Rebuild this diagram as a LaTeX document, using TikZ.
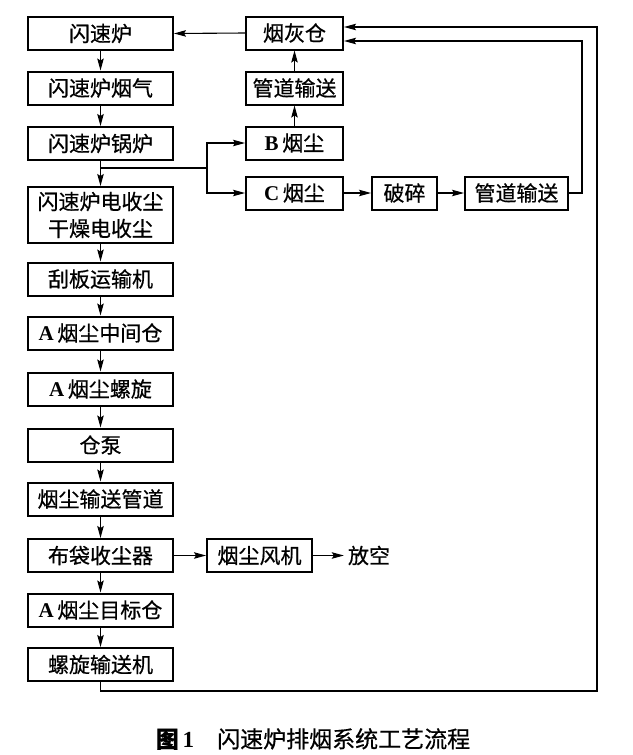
\documentclass[tikz,border=0pt]{standalone}
\usepackage{fontspec}
\setmainfont{Noto Sans CJK SC}[FakeBold=0.6]
\newfontfamily\latf{Liberation Serif}
\usepackage{tikz}
\usetikzlibrary{positioning,calc}
\usetikzlibrary{shapes.geometric, arrows.meta}
\newcommand{\ltr}[1]{{\latf\bfseries #1}\,}
\tikzset{
  bx/.style={rectangle, minimum width=145pt, minimum height=33pt, inner sep=0pt, text centered, draw=black, line width=2pt, font=\fontsize{21}{27}\selectfont},
  bxr/.style={bx, minimum width=97pt},
  lbl/.style={inner sep=0pt, font=\fontsize{21}{27}\selectfont},
  ar/.style={line width=1.1pt, -{Stealth[length=12pt,width=6.5pt,inset=2pt]}},
  ln/.style={line width=1.1pt}
}
\begin{document}
\begin{tikzpicture}[x=1pt,y=-1pt]
	\useasboundingbox (0,0) rectangle (632,755);
	% left column
	\node[bx] (fsl) at (100.5,33.5) {闪速炉};
	\node[bx] (yq) at (100.5,88) {闪速炉烟气};
	\node[bx] (gl) at (100.5,143.5) {闪速炉锅炉};
	\node[bx, minimum height=56pt, align=center] (dsc) at (100.5,215) {闪速炉电收尘\\干燥电收尘};
	\node[bx] (gb) at (100.5,279) {刮板运输机};
	\node[bx] (zjc) at (100.5,333) {\ltr{A}烟尘中间仓};
	\node[bx] (lx) at (100.5,389) {\ltr{A}烟尘螺旋};
	\node[bx] (cb) at (100.5,445) {仓泵};
	\node[bx] (gd) at (100.5,499) {烟尘输送管道};
	\node[bx] (bd) at (100.5,555.5) {布袋收尘器};
	\node[bx] (mbc) at (100.5,610) {\ltr{A}烟尘目标仓};
	\node[bx] (lxj) at (100.5,664.5) {螺旋输送机};
	% right side
	\node[bxr] (yhc) at (294.5,33) {烟灰仓};
	\node[bxr] (gda) at (294.5,88) {管道输送};
	\node[bxr] (byc) at (294.5,143) {\ltr{B}烟尘};
	\node[bxr] (cyc) at (294.5,193) {\ltr{C}烟尘};
	\node[bx, minimum width=65pt] (ps) at (404.5,193) {破碎};
	\node[bx, minimum width=103pt] (gdb) at (516.5,193) {管道输送};
	\node[bx, minimum width=105pt] (fj) at (259.5,555.5) {烟尘风机};
	\node[lbl] (fk) at (369,555.5) {放空};
	\node[lbl, font=\fontsize{23}{27}\selectfont] (cap) at (313,739) {{\bfseries 图\,\latf 1}\hspace{1em}闪速炉排烟系统工艺流程};
	%
	\coordinate (jn) at (207,168);
	\coordinate (rg) at (582,193);
	\coordinate (rb) at (597,691);

	\draw[ar] (yhc.west) -- (fsl.east);
	\draw[ar] (fsl) -- (yq);
	\draw[ar] (yq) -- (gl);
	\draw[ar] (gl) -- (dsc);
	\draw[ar] (dsc) -- (gb);
	\draw[ar] (gb) -- (zjc);
	\draw[ar] (zjc) -- (lx);
	\draw[ar] (lx) -- (cb);
	\draw[ar] (cb) -- (gd);
	\draw[ar] (gd) -- (bd);
	\draw[ar] (bd) -- (mbc);
	\draw[ar] (mbc) -- (lxj);
	\draw[ln] (gl.south |- jn) -- (jn);
	\draw[ar] (jn) |- (byc.west);
	\draw[ar] (jn) |- (cyc.west);
	\draw[ar] (byc) -- (gda);
	\draw[ar] (gda) -- (yhc);
	\draw[ar] (cyc) -- (ps);
	\draw[ar] (ps) -- (gdb);
	\draw[ar] (gdb.east) -- (rg) |- ([yshift=-8pt]yhc.east);
	\draw[ar] (lxj.south) |- (rb) |- ([yshift=6pt]yhc.east);
	\draw[ar] (bd) -- (fj);
	\draw[ar] (fj.east) -- ([xshift=-4pt]fk.west);
\end{tikzpicture}
\end{document}
